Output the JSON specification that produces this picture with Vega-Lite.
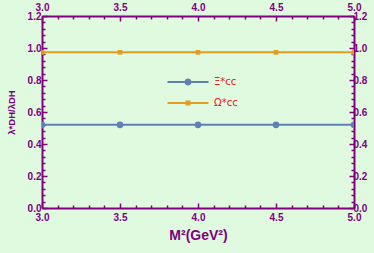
{
  "$schema": "https://vega.github.io/schema/vega-lite/v6.json",
  "width": 312,
  "height": 192,
  "autosize": {"type": "none"},
  "padding": {"left": 42, "top": 16, "right": 20, "bottom": 45},
  "background": "#E0FAE0",
  "config": {
    "view": {"stroke": null},
    "axis": {
      "domainColor": "#800080",
      "domainWidth": 2,
      "tickColor": "#800080",
      "tickWidth": 1.5,
      "labelColor": "#800080",
      "labelFont": "Liberation Sans",
      "labelFontWeight": "bold",
      "labelFontSize": 10,
      "grid": false,
      "titleColor": "#800080",
      "titleFont": "Liberation Sans",
      "titleFontWeight": "bold"
    }
  },
  "data": {
    "values": [
      {"m2": 3.0, "ratio": 0.52, "series": "Ξ*cc"},
      {"m2": 3.5, "ratio": 0.52, "series": "Ξ*cc"},
      {"m2": 4.0, "ratio": 0.52, "series": "Ξ*cc"},
      {"m2": 4.5, "ratio": 0.52, "series": "Ξ*cc"},
      {"m2": 5.0, "ratio": 0.52, "series": "Ξ*cc"},
      {"m2": 3.0, "ratio": 0.973, "series": "Ω*cc"},
      {"m2": 3.5, "ratio": 0.973, "series": "Ω*cc"},
      {"m2": 4.0, "ratio": 0.973, "series": "Ω*cc"},
      {"m2": 4.5, "ratio": 0.973, "series": "Ω*cc"},
      {"m2": 5.0, "ratio": 0.973, "series": "Ω*cc"}
    ]
  },
  "encoding": {
    "x": {"field": "m2", "type": "quantitative", "scale": {"domain": [3, 5], "nice": false, "zero": false}},
    "y": {"field": "ratio", "type": "quantitative", "scale": {"domain": [0, 1.2], "nice": false}},
    "color": {"field": "series", "type": "nominal", "scale": {"domain": ["Ξ*cc", "Ω*cc"], "range": ["#5E81B5", "#E19C24"]}}
  },
  "layer": [
    {
      "mark": {"type": "line", "strokeWidth": 2, "clip": true},
      "encoding": {
        "x": {"field": "m2", "type": "quantitative",
          "axis": {"orient": "bottom", "title": "M²(GeV²)", "titleFontSize": 14, "titlePadding": 6,
            "values": [3.0,3.1,3.2,3.3,3.4,3.5,3.6,3.7,3.8,3.9,4.0,4.1,4.2,4.3,4.4,4.5,4.6,4.7,4.8,4.9,5.0],
            "format": ".1f",
            "labelExpr": "round(datum.value*10)%5==0 ? datum.label : ''",
            "tickSize": {"condition": {"test": "round(datum.value*10)%5==0", "value": -5}, "value": -3},
            "labelPadding": 9, "labelFlush": false}},
        "y": {"field": "ratio", "type": "quantitative",
          "axis": {"orient": "left", "title": "λ*DH/λDH", "titleFontSize": 9.5, "titlePadding": 11,
            "values": [0,0.04,0.08,0.12,0.16,0.2,0.24,0.28,0.32,0.36,0.4,0.44,0.48,0.52,0.56,0.6,0.64,0.68,0.72,0.76,0.8,0.84,0.88,0.92,0.96,1.0,1.04,1.08,1.12,1.16,1.2],
            "format": ".1f",
            "labelExpr": "round(datum.value*100)%20==0 ? datum.label : ''",
            "tickSize": {"condition": {"test": "round(datum.value*100)%20==0", "value": -5}, "value": -3},
            "labelPadding": 6, "labelFlush": false}},
        "color": {"field": "series", "type": "nominal",
          "legend": {"title": null, "orient": "none", "legendX": 136, "legendY": 56,
            "labelColor": "#E8201A", "labelFont": "DejaVu Sans", "labelFontSize": 10,
            "symbolSize": 400, "labelOffset": 16, "rowPadding": 6,
            "encode": {"symbols": {"update": {
              "shape": {"signal": "datum.value == 'Ξ*cc' ? 'M-2.05,-0.1L2.05,-0.1L2.05,0.1L-2.05,0.1Z M-0.35,0 A0.35,0.35 0 1,1 0.35,0 A0.35,0.35 0 1,1 -0.35,0 Z' : 'M-2.05,-0.1L2.05,-0.1L2.05,0.1L-2.05,0.1Z M-0.25,-0.25L0.25,-0.25L0.25,0.25L-0.25,0.25Z'"},
              "fill": {"signal": "datum.value == 'Ξ*cc' ? '#5E81B5' : '#E19C24'"},
              "fillOpacity": {"value": 1},
              "opacity": {"value": 1},
              "strokeWidth": {"value": 0}
            }}}}}
      }
    },
    {
      "transform": [{"filter": "datum.series == 'Ξ*cc'"}],
      "mark": {"type": "point", "shape": "circle", "size": 45, "filled": true, "opacity": 1, "clip": true, "color": "#5E81B5"},
      "encoding": {
        "color": null,
        "x": {"field": "m2", "type": "quantitative",
          "axis": {"orient": "top", "title": null,
            "values": [3.0,3.1,3.2,3.3,3.4,3.5,3.6,3.7,3.8,3.9,4.0,4.1,4.2,4.3,4.4,4.5,4.6,4.7,4.8,4.9,5.0],
            "format": ".1f",
            "labelExpr": "round(datum.value*10)%5==0 ? datum.label : ''",
            "tickSize": {"condition": {"test": "round(datum.value*10)%5==0", "value": -5}, "value": -3},
            "labelPadding": 9, "labelFlush": false}},
        "y": {"field": "ratio", "type": "quantitative",
          "axis": {"orient": "right", "title": null,
            "values": [0,0.04,0.08,0.12,0.16,0.2,0.24,0.28,0.32,0.36,0.4,0.44,0.48,0.52,0.56,0.6,0.64,0.68,0.72,0.76,0.8,0.84,0.88,0.92,0.96,1.0,1.04,1.08,1.12,1.16,1.2],
            "format": ".1f",
            "labelExpr": "round(datum.value*100)%20==0 ? datum.label : ''",
            "tickSize": {"condition": {"test": "round(datum.value*100)%20==0", "value": -5}, "value": -3},
            "labelPadding": 4, "labelFlush": false}}
      }
    },
    {
      "transform": [{"filter": "datum.series == 'Ω*cc'"}],
      "mark": {"type": "point", "shape": "square", "size": 22, "filled": true, "opacity": 1, "clip": true, "color": "#E19C24"},
      "encoding": {
        "color": null,
        "x": {"field": "m2", "type": "quantitative", "axis": null},
        "y": {"field": "ratio", "type": "quantitative", "axis": null}
      }
    }
  ],
  "resolve": {"axis": {"x": "independent", "y": "independent"}}
}
